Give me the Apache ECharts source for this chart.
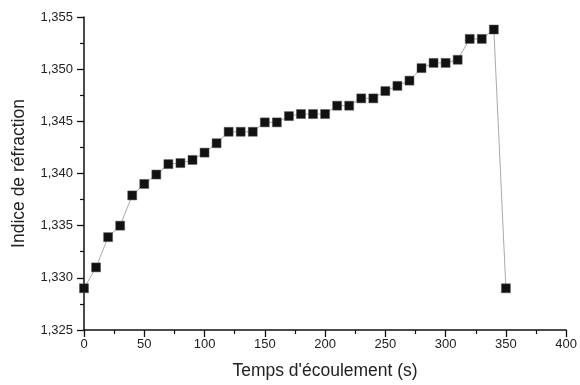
<!DOCTYPE html>
<html>
<head>
    <meta charset="UTF-8">
    <title>Indice de réfraction</title>
    <script src="https://cdn.jsdelivr.net/npm/echarts@6/dist/echarts.min.js"></script>
    <style>
        html, body { margin: 0; padding: 0; background: #fff; }
    </style>
</head>
<body>
<div id="chart" style="width: 580px;height: 385px;"></div>
<script type="text/javascript">
    // temps (s)
    var temps = [0, 10, 20, 30, 40, 50, 60, 70, 80, 90, 100, 110, 120, 130, 140, 150, 160, 170,
        180, 190, 200, 210, 220, 230, 240, 250, 260, 270, 280, 290, 300, 310, 320, 330, 340, 350];
    // indice de réfraction
    var indice = [1.3290, 1.3310, 1.3339, 1.3350, 1.3379, 1.3390, 1.3399, 1.3409, 1.3410, 1.3413,
        1.3420, 1.3429, 1.3440, 1.3440, 1.3440, 1.3449, 1.3449, 1.3455,
        1.3457, 1.3457, 1.3457, 1.3465, 1.3465, 1.3472, 1.3472, 1.3479, 1.3484, 1.3489, 1.3501,
        1.3506, 1.3506, 1.3509, 1.3529, 1.3529, 1.3538, 1.3290];

    var points = [];
    for (var i = 0; i < temps.length; i++) {
        points.push([temps[i], indice[i]]);
    }

    var chartDom = document.getElementById('chart');
    var myChart = echarts.init(chartDom);
    var labelFont = {
        color: '#222',
        fontFamily: 'Liberation Sans, Arial, sans-serif',
        fontSize: 13
    };
    var nameFont = {
        color: '#222',
        fontFamily: 'Liberation Sans, Arial, sans-serif',
        fontSize: 17.5
    };

    var option = {
        animation: false,
        grid: {
            left: 84,
            right: 12,
            top: 17,
            bottom: 54
        },
        xAxis: {
            type: 'value',
            min: 0,
            max: 400,
            interval: 50,
            name: "Temps d'écoulement (s)",
            nameLocation: 'middle',
            nameGap: 32,
            nameTextStyle: nameFont,
            axisLine: { lineStyle: { color: '#111', width: 1.5 } },
            axisTick: { inside: false, length: 7, lineStyle: { color: '#111', width: 1.3 } },
            minorTick: { show: true, splitNumber: 2, length: 4, lineStyle: { color: '#111', width: 1.2 } },
            axisLabel: Object.assign({ margin: 8 }, labelFont),
            splitLine: { show: false }
        },
        yAxis: {
            type: 'value',
            min: 1.325,
            max: 1.355,
            interval: 0.005,
            name: 'Indice de réfraction',
            nameLocation: 'middle',
            nameGap: 56,
            nameTextStyle: nameFont,
            axisLine: { show: true, lineStyle: { color: '#111', width: 1.5 } },
            axisTick: { show: true, inside: false, length: 7, lineStyle: { color: '#111', width: 1.3 } },
            minorTick: { show: true, splitNumber: 2, length: 4, lineStyle: { color: '#111', width: 1.2 } },
            axisLabel: Object.assign({
                margin: 11,
                formatter: function (v) {
                    return v.toFixed(3).replace('.', ',');
                }
            }, labelFont),
            splitLine: { show: false }
        },
        series: [
            {
                type: 'line',
                data: points,
                symbol: 'rect',
                symbolSize: 9,
                lineStyle: { color: '#aaa', width: 1 },
                itemStyle: { color: '#111', borderColor: '#555', borderWidth: 0.5 },
                z: 3
            }
        ]
    };

    option && myChart.setOption(option);
</script>
</body>
</html>
